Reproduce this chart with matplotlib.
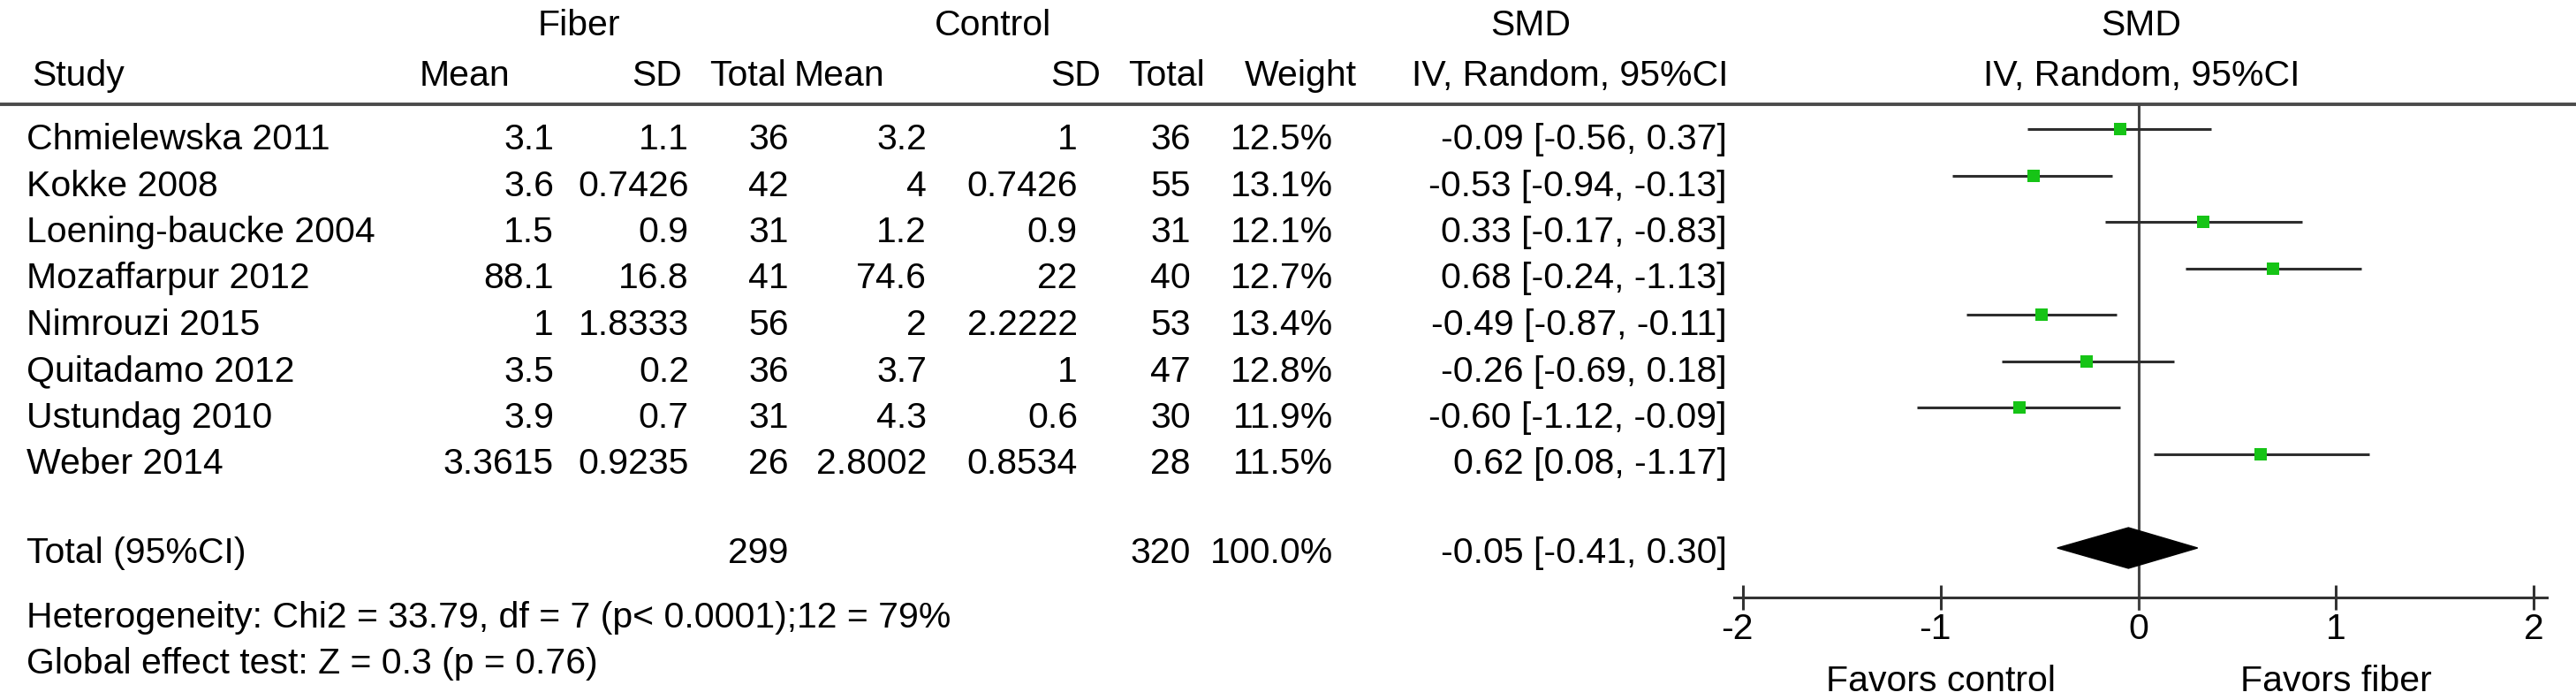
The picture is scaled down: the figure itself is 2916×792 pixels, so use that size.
import matplotlib
matplotlib.use("Agg")
from matplotlib import pyplot as plt
from matplotlib.patches import Polygon

plt.rcParams['font.family'] = ['Liberation Sans', 'DejaVu Sans']
plt.rcParams['font.size'] = 29.5

# Study level data
studies = ["Chmielewska 2011", "Kokke 2008", "Loening-baucke 2004", "Mozaffarpur 2012",
           "Nimrouzi 2015", "Quitadamo 2012", "Ustundag 2010", "Weber 2014"]
fiber_mean = ["3.1", "3.6", "1.5", "88.1", "1", "3.5", "3.9", "3.3615"]
fiber_sd = ["1.1", "0.7426", "0.9", "16.8", "1.8333", "0.2", "0.7", "0.9235"]
fiber_n = [36, 42, 31, 41, 56, 36, 31, 26]
ctrl_mean = ["3.2", "4", "1.2", "74.6", "2", "3.7", "4.3", "2.8002"]
ctrl_sd = ["1", "0.7426", "0.9", "22", "2.2222", "1", "0.6", "0.8534"]
ctrl_n = [36, 55, 31, 40, 53, 47, 30, 28]
weights = ["12.5%", "13.1%", "12.1%", "12.7%", "13.4%", "12.8%", "11.9%", "11.5%"]
smd = [-0.09, -0.53, 0.33, 0.68, -0.49, -0.26, -0.60, 0.62]
ci_low = [-0.56, -0.94, -0.17, 0.24, -0.87, -0.69, -1.12, 0.08]
ci_high = [0.37, -0.13, 0.83, 1.13, -0.11, 0.18, -0.09, 1.17]
# labels as printed in the figure
smd_labels = ["-0.09 [-0.56, 0.37]", "-0.53 [-0.94, -0.13]", "0.33 [-0.17, -0.83]",
              "0.68 [-0.24, -1.13]", "-0.49 [-0.87, -0.11]", "-0.26 [-0.69, 0.18]",
              "-0.60 [-1.12, -0.09]", "0.62 [0.08, -1.17]"]

# Pooled result
total_fiber = 299
total_ctrl = 320
total_weight = "100.0%"
pooled_smd = -0.05
pooled_low = -0.41
pooled_high = 0.30
pooled_label = "-0.05 [-0.41, 0.30]"

heterogeneity = "Heterogeneity: Chi2 = 33.79, df = 7 (p< 0.0001);12 = 79%"
global_test = "Global effect test: Z = 0.3 (p = 0.76)"
x_ticks = [-2, -1, 0, 1, 2]

W, H = 2916, 792
fig = plt.figure(figsize=(W / 100, H / 100), dpi=100)

# table area in pixel coordinates
tab = fig.add_axes([0, 0, 1, 1])
tab.set_xlim(0, W)
tab.set_ylim(H, 0)
tab.axis('off')

# forest area, data coordinates along x
fx0, fx1 = 1963, 2883
ax = fig.add_axes([fx0 / W, 0, (fx1 - fx0) / W, 1])
ax.set_xlim(-2.045, 2.067)
ax.set_ylim(H, 0)
ax.patch.set_visible(False)

row0, step = 169, 52.5
line_y = 118
axis_y = 676

# headers
tab.text(655, 40, "Fiber", ha='center')
tab.text(1124, 40, "Control", ha='center')
tab.text(1733, 40, "SMD", ha='center')
tab.text(2424, 40, "SMD", ha='center')
hdr_y = 97
tab.text(36, hdr_y, "Study", ha='left')
tab.text(475, hdr_y, "Mean", ha='left')
tab.text(772, hdr_y, "SD", ha='right')
tab.text(890, hdr_y, "Total", ha='right')
tab.text(899, hdr_y, "Mean", ha='left')
tab.text(1246, hdr_y, "SD", ha='right')
tab.text(1364, hdr_y, "Total", ha='right')
tab.text(1536, hdr_y, "Weight", ha='right')
tab.text(1957, hdr_y, "IV, Random, 95%CI", ha='right')
tab.text(2424, hdr_y, "IV, Random, 95%CI", ha='center')
tab.axhline(line_y, color='#4a4a4a', lw=2.8)

# study rows
for i, name in enumerate(studies):
    y = row0 + i * step
    tab.text(30, y, name, ha='left')
    tab.text(627, y, fiber_mean[i], ha='right')
    tab.text(780, y, fiber_sd[i], ha='right')
    tab.text(893, y, str(fiber_n[i]), ha='right')
    tab.text(1049, y, ctrl_mean[i], ha='right')
    tab.text(1220, y, ctrl_sd[i], ha='right')
    tab.text(1348, y, str(ctrl_n[i]), ha='right')
    tab.text(1509, y, weights[i], ha='right')
    tab.text(1955, y, smd_labels[i], ha='right')

    my = y - 23
    ax.plot([ci_low[i], ci_high[i]], [my, my], color='#2e2e2e', lw=2.2,
            solid_capstyle='butt', zorder=3)
    ax.plot(smd[i], my, marker='s', markersize=9.4, color='#16c416',
            markeredgewidth=0, zorder=4)

# total row
ty = 637
tab.text(30, ty, "Total (95%CI)", ha='left')
tab.text(893, ty, str(total_fiber), ha='right')
tab.text(1348, ty, str(total_ctrl), ha='right')
tab.text(1509, ty, total_weight, ha='right')
tab.text(1955, ty, pooled_label, ha='right')
dy = 620
diamond = Polygon([(pooled_low, dy), (pooled_smd, dy - 23), (pooled_high, dy),
                   (pooled_smd, dy + 23)], closed=True, color='black', zorder=4)
ax.add_patch(diamond)

tab.text(30, 710, heterogeneity, ha='left')
tab.text(30, 762, global_test, ha='left')

# zero line and axis
ax.vlines(0, line_y, axis_y + 14, color='#444444', lw=2.2, zorder=2)
for side in ['top', 'left', 'right']:
    ax.spines[side].set_visible(False)
ax.spines['bottom'].set_position(('data', axis_y))
ax.spines['bottom'].set_color('#333333')
ax.spines['bottom'].set_linewidth(2.2)
ax.set_yticks([])
ax.set_xticks(x_ticks)
ax.tick_params(axis='x', direction='inout', length=20, width=2.2, color='#333333',
               labelbottom=False)
for t in x_ticks:
    ax.annotate(str(t), xy=(t, 723), xytext=(8.2, 0), textcoords='offset points',
                ha='right', va='baseline')
ax.text(-1, 782, "Favors control", ha='center', va='baseline')
ax.text(1, 782, "Favors fiber", ha='center', va='baseline')

fig.savefig("out.png", dpi=100)
